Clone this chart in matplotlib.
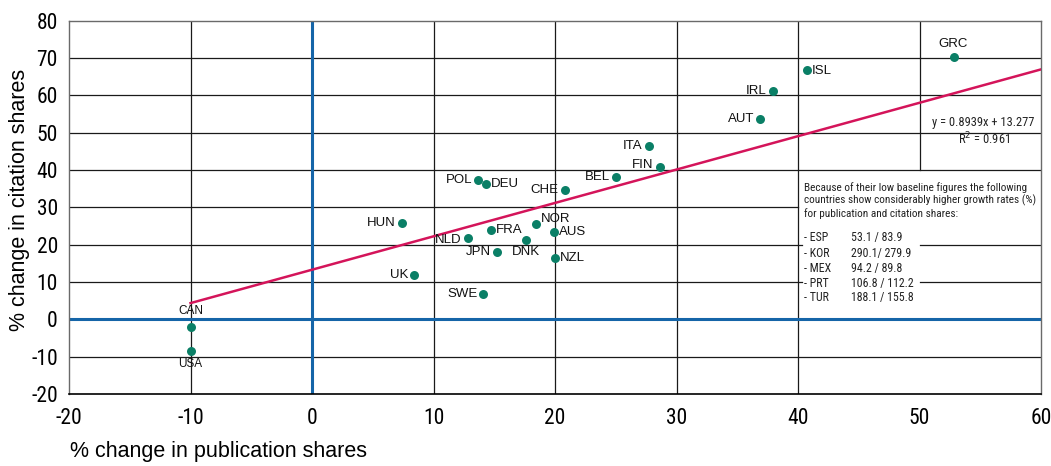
import matplotlib
matplotlib.use("Agg")
import matplotlib.pyplot as plt

plt.rcParams["axes.unicode_minus"] = False

# Percentage change in publication shares (x) and citation shares (y)
countries = ["GRC", "ISL", "IRL", "AUT", "ITA", "FIN", "BEL", "CHE", "POL", "DEU",
             "HUN", "NOR", "FRA", "AUS", "NLD", "DNK", "JPN", "NZL", "UK", "SWE",
             "CAN", "USA"]
pub_change = [52.8, 40.7, 37.9, 36.9, 27.7, 28.6, 25.0, 20.8, 13.7, 14.3,
              7.4, 18.4, 14.7, 19.9, 12.8, 17.6, 15.2, 20.0, 8.4, 14.1,
              -10.0, -10.0]
cit_change = [70.1, 66.8, 61.2, 53.7, 46.5, 40.9, 38.2, 34.5, 37.2, 36.1,
              25.9, 25.4, 23.8, 23.3, 21.7, 21.1, 17.9, 16.3, 11.8, 6.7,
              -2.1, -8.6]

# Linear fit reported on the chart
slope = 0.8939
intercept = 13.277
r_squared = 0.961
fit_x = [-10, 60]

x_ticks = [-20, -10, 0, 10, 20, 30, 40, 50, 60]
y_ticks = [-20, -10, 0, 10, 20, 30, 40, 50, 60, 70, 80]

note_lines = ["Because of their low baseline figures the following",
              "countries show considerably higher growth rates (%)",
              "for publication and citation shares:"]
outliers = ["ESP", "KOR", "MEX", "PRT", "TUR"]
outlier_values = ["53.1 / 83.9", "290.1/ 279.9", "94.2 / 89.8", "106.8 / 112.2", "188.1 / 155.8"]

# Where each country label sits relative to its marker
label_side = {"GRC": "t", "ISL": "r", "IRL": "l", "AUT": "l", "ITA": "l", "FIN": "l",
              "BEL": "l", "CHE": "l", "POL": "l", "DEU": "r", "HUN": "l", "NOR": "r",
              "FRA": "r", "AUS": "r", "NLD": "l", "DNK": "b", "JPN": "l", "NZL": "r",
              "UK": "l", "SWE": "l", "CAN": "t", "USA": "b"}
label_nudge = {"NOR": 5, "FIN": 2, "NLD": -2, "ISL": -1}

TEAL = "#0a7f66"
BLUE = "#1565a8"
RED = "#d4145a"
GRID = "#1a1a1a"
NARROW = ["Roboto Condensed", "Liberation Sans Narrow", "DejaVu Sans"]
LABEL_FONT = ["Liberation Sans", "DejaVu Sans"]

fig = plt.figure(figsize=(10.51, 4.66), dpi=100)
ax = fig.add_axes([0.0657, 0.1545, 0.9248, 0.8015])
ax.set_xlim(-20, 60)
ax.set_ylim(-20, 80)

# Grid lines; the notes region on the right (x 40-60, y 0-40) is kept mostly clear
for xv in x_ticks[1:-1]:
    if xv == 0:
        continue
    if xv == 50:
        ax.plot([xv, xv], [40, 80], color=GRID, lw=0.9, zorder=1)
    else:
        ax.axvline(xv, color=GRID, lw=0.9, zorder=1)
for yv in y_ticks[1:-1]:
    if yv == 0:
        continue
    if yv == 30:
        ax.plot([-20, 40], [yv, yv], color=GRID, lw=0.9, zorder=1)
    elif yv in (10, 20):
        ax.plot([-20, 40.3], [yv, yv], color=GRID, lw=0.9, zorder=1)
        ax.plot([50, 60], [yv, yv], color=GRID, lw=0.9, zorder=1)
    else:
        ax.axhline(yv, color=GRID, lw=0.9, zorder=1)

ax.axvline(0, color=BLUE, lw=2.2, zorder=2)
ax.axhline(0, color=BLUE, lw=2.2, zorder=2)

for side in ["left", "top", "right"]:
    ax.spines[side].set_color("#6a6a6a")
    ax.spines[side].set_linewidth(1.0)
ax.spines["bottom"].set_color("#000000")
ax.spines["bottom"].set_linewidth(1.2)

# Regression line
fit_y = [slope * v + intercept for v in fit_x]
ax.plot(fit_x, fit_y, color=RED, lw=1.8, zorder=3)

# Country markers and labels
ax.scatter(pub_change, cit_change, s=42, color=TEAL, zorder=4, linewidths=0)
offsets = {"t": ((0, 7), "center", "bottom"),
           "b": ((0, -6), "center", "top"),
           "l": ((-6, 0), "right", "center"),
           "r": ((5, 0), "left", "center")}
for name, xv, yv in zip(countries, pub_change, cit_change):
    (dx, dy), ha, va = offsets[label_side[name]]
    dy += label_nudge.get(name, 0)
    if name == "CAN":
        dy = 10
    if name == "USA":
        dy = -7
    size = 8.5 if name in ("CAN", "USA") else 9.5
    ax.annotate(name, (xv, yv), xytext=(dx, dy), textcoords="offset pixels",
                ha=ha, va=va, fontsize=size, family=LABEL_FONT, color="#111111", zorder=5)

# Equation of the fit
ax.text(0.941, 0.727, f"y = {slope}x + {intercept}", transform=ax.transAxes,
        ha="center", va="center", fontsize=9, family=NARROW, color="#222222", zorder=5)
ax.text(0.941, 0.684, f"R$^2$ = {r_squared}", transform=ax.transAxes,
        ha="center", va="center", fontsize=9, family=NARROW, color="#222222", zorder=5)

# Note on countries with low baseline figures
for line, yv in zip(note_lines, [35.3, 31.8, 28.3]):
    ax.text(40.5, yv, line, ha="left", va="center", fontsize=8.1, family=NARROW,
            color="#222222", zorder=5)
for code, val, yv in zip(outliers, outlier_values, [21.8, 17.6, 13.7, 9.7, 5.8]):
    ax.text(40.5, yv, "- " + code, ha="left", va="center", fontsize=8.6,
            family=NARROW, color="#222222", zorder=5)
    ax.text(44.35, yv, val, ha="left", va="center", fontsize=8.6,
            family=NARROW, color="#222222", zorder=5)

ax.set_xticks(x_ticks)
ax.set_yticks(y_ticks)
ax.tick_params(length=0, labelsize=15.5)
ax.tick_params(axis="x", pad=10)
ax.tick_params(axis="y", pad=8)
for lab in ax.get_xticklabels() + ax.get_yticklabels():
    lab.set_family(NARROW)

ax.set_xlabel("% change in publication shares", fontsize=15.5, family=LABEL_FONT)
ax.set_ylabel("% change in citation shares", fontsize=15.5, family=LABEL_FONT)
ax.xaxis.set_label_coords(0.001, -0.125)
ax.xaxis.label.set_horizontalalignment("left")
ax.yaxis.set_label_coords(-0.051, 0.52)
ax.yaxis.label.set_verticalalignment("center")

fig.savefig("out.png", dpi=100)
